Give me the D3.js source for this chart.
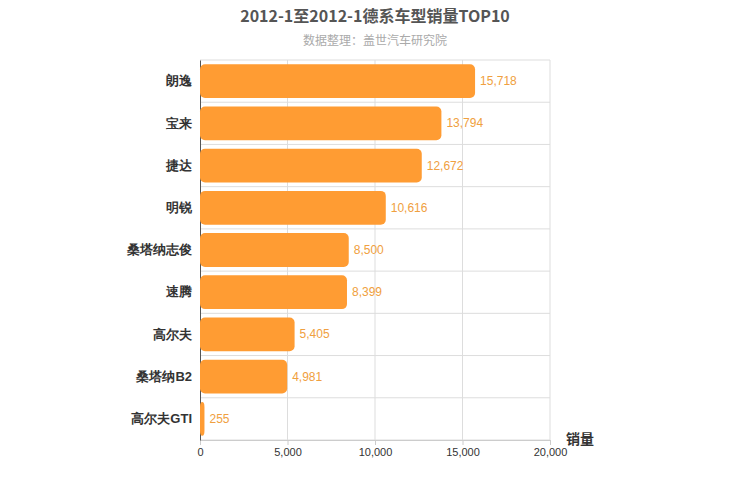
<!DOCTYPE html>
<html><head><meta charset="utf-8">
<script src="https://cdn.jsdelivr.net/npm/d3@7"></script>
<style>body{margin:0;background:#fff;font-family:"Noto Sans CJK SC","Liberation Sans",sans-serif}</style>
</head><body><svg id="c" width="750" height="500"></svg>
<script>
const models = ['朗逸','宝来','捷达','明锐','桑塔纳志俊','速腾','高尔夫','桑塔纳B2','高尔夫GTI'];
const sales = [15718,13794,12672,10616,8500,8399,5405,4981,255];
const xTicks = [0,5000,10000,15000,20000];

const svg = d3.select('#c');
const m = {l:200, r:550, t:60, b:440};
const x = d3.scaleLinear().domain([0,20000]).range([m.l,m.r]);
const y = d3.scaleBand().domain(models).range([m.t,m.b]).paddingInner(0.2).paddingOuter(0.1);

svg.append('text').attr('x',375).attr('y',22).attr('text-anchor','middle')
  .attr('font-size',16).attr('font-weight','bold').attr('fill','#555').text('2012-1至2012-1德系车型销量TOP10');
svg.append('text').attr('x',375).attr('y',45).attr('text-anchor','middle')
  .attr('font-size',12).attr('fill','#aaa').text('数据整理：盖世汽车研究院');

// grid
svg.append('g').selectAll('line').data(xTicks.slice(1)).join('line')
  .attr('x1',d=>x(d)).attr('x2',d=>x(d)).attr('y1',m.t).attr('y2',m.b).attr('stroke','#ddd');
const bounds = models.map(d=>y(d)-y.step()*y.paddingInner()/2).slice(1);
svg.append('g').selectAll('line').data([m.t,...bounds,m.b]).join('line')
  .attr('x1',m.l).attr('x2',m.r).attr('y1',d=>d).attr('y2',d=>d).attr('stroke','#ddd');

// x axis
const xa = svg.append('g').attr('transform',`translate(0,${m.b})`)
  .call(d3.axisBottom(x).tickValues(xTicks).tickFormat(d3.format(',')).tickSize(5));
xa.select('.domain').attr('stroke','#ccc');
xa.selectAll('line').attr('stroke','#ccc');
xa.selectAll('text').attr('font-size',11).attr('fill','#333');

// y axis
const ya = svg.append('g').attr('transform',`translate(${m.l},0)`)
  .call(d3.axisLeft(y).tickSize(0).tickPadding(8));
ya.select('.domain').attr('stroke','#555');
ya.selectAll('text').attr('font-size',13).attr('font-weight','bold').attr('fill','#333');

svg.append('text').attr('x',580).attr('y',444).attr('text-anchor','middle')
  .attr('font-size',14).attr('font-weight','bold').attr('fill','#333').text('销量');

svg.append('g').selectAll('rect').data(sales).join('rect')
  .attr('x',x(0)).attr('y',(d,i)=>y(models[i])).attr('height',y.bandwidth())
  .attr('width',d=>x(d)-x(0)).attr('rx',5).attr('fill','#ff9c33');

svg.append('g').selectAll('text').data(sales).join('text')
  .attr('x',d=>x(d)+5).attr('y',(d,i)=>y(models[i])+y.bandwidth()/2+4)
  .attr('font-size',12).attr('fill','#f0a040').attr('font-family','Liberation Sans, sans-serif')
  .text(d=>d3.format(',')(d));
</script></body></html>
